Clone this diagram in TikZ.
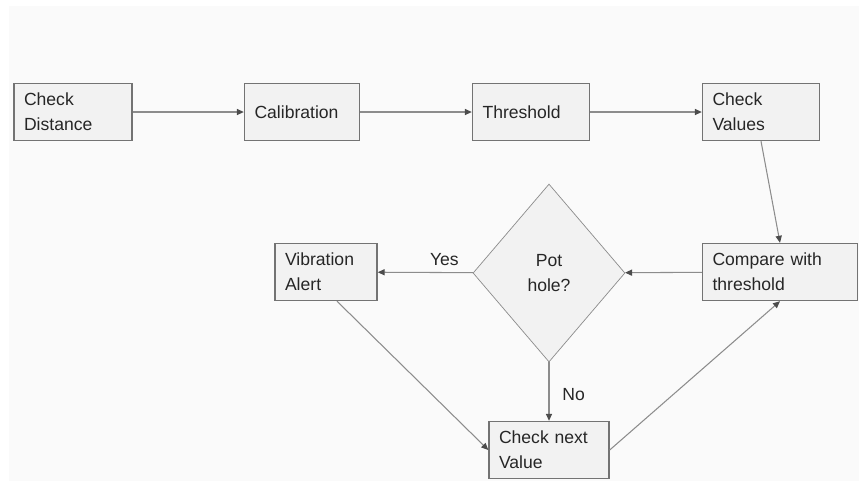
\documentclass[tikz,border=0pt]{standalone}
\usepackage{fontspec}
\setmainfont{Liberation Sans}
\usetikzlibrary{shapes.geometric,arrows.meta}

\begin{document}
\begin{tikzpicture}
  [x=0.02cm,y=-0.02cm,
   every node/.style={font=\fontsize{10}{14}\selectfont,text=black!85},
   box/.style={draw=black!55,fill=black!5,line width=0.8pt,inner xsep=0.2cm,minimum height=1.14cm,align=left},
   dec/.style={draw=black!45,fill=black!5,diamond,aspect=0.85,inner sep=0pt,minimum width=3.04cm,minimum height=3.56cm,align=center},
   flow/.style={draw=black!45,line width=0.6pt,-{Triangle[length=4pt,width=3.5pt,color=black!70]}}]
  \fill[white] (0,0) rectangle (859,481);
  \fill[black!2] (9,6) rectangle (859,481);
  \useasboundingbox (0,0) rectangle (859,481);
  \node[box,text width=1.96cm] (cd) at (73,112) {Check\\Distance};
  \node[box,text width=1.9cm] (cal) at (302,112) {Calibration};
  \node[box,text width=1.94cm] (thr) at (531,112) {Threshold};
  \node[box,text width=1.94cm] (cv) at (761,112) {Check\\Values};
  \node[box,text width=2.7cm] (cmp) at (780,272) {Compare with\\threshold};
  \node[dec] (pot) at (549,273) {Pot\\hole?};
  \node[box,text width=1.64cm] (va) at (326,272) {Vibration\\Alert};
  \node[box,text width=2cm] (cnv) at (549,450) {Check next\\Value};
  \foreach \from/\to in {cd/cal,cal/thr,thr/cv,cmp/pot}
    \draw[flow] (\from) -- (\to);
  \draw[flow] (cv.south) -- (cmp.north);
  \draw[flow] (pot) -- node[above,pos=0.3] {Yes} (va);
  \draw[flow] (pot.south) -- node[right=4pt,pos=0.55] {No} (cnv.north);
  \draw[flow] ([xshift=0.22cm]va.south) -- (cnv.west);
  \draw[flow] (cnv.east) -- (cmp.south);
\end{tikzpicture}
\end{document}
